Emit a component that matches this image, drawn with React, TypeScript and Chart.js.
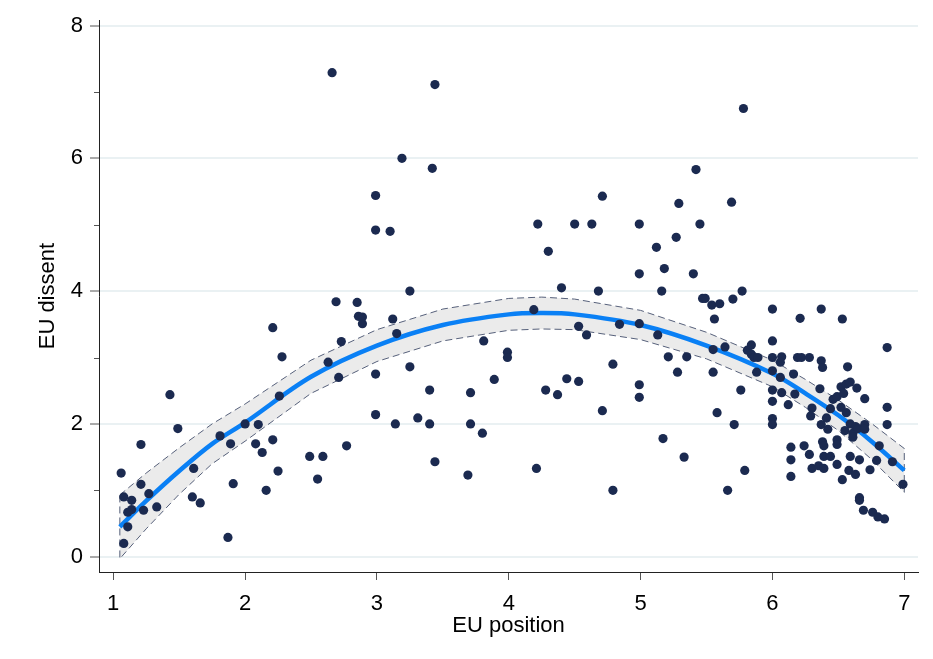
import React, { useEffect, useRef } from "react";
import { Chart, registerables } from "chart.js";

Chart.register(...registerables);

// Scatter observations (EU position, EU dissent)
const euPosition = [
  1.06, 1.08, 1.14, 1.14, 1.11, 1.23, 1.33, 1.27, 1.21, 1.21, 1.11, 1.08, 1.43, 1.49, 1.61, 1.6, 1.66, 1.81, 1.89, 1.91,
  1.87, 2.0, 2.1, 2.08, 2.13, 2.21, 2.25, 2.16, 2.26, 2.21, 2.28, 2.49, 2.59, 2.55, 2.77, 2.63, 2.71, 2.73, 2.69, 2.85,
  2.86, 2.89, 2.89, 2.66, 2.99, 2.99, 2.99, 2.99, 3.1, 3.19, 3.42, 3.44, 3.25, 3.12, 3.15, 3.25, 3.14, 3.31, 3.4, 3.4,
  3.44, 3.71, 3.71, 3.8, 3.69, 3.81, 3.89, 3.99, 3.99, 4.19, 4.21, 4.22, 4.3, 4.28, 4.37, 4.4, 4.44, 4.5, 4.53, 4.53,
  4.59, 4.63, 4.68, 4.71, 4.71, 4.79, 4.79, 4.84, 4.99, 4.99, 4.99, 4.99, 4.99, 5.12, 5.13, 5.16, 5.18, 5.17, 5.21, 5.27,
  5.29, 5.28, 5.33, 5.35, 5.4, 5.42, 5.45, 5.47, 5.49, 5.54, 5.6, 5.56, 5.55, 5.55, 5.58, 5.64, 5.66, 5.69, 5.7, 5.71,
  5.76, 5.77, 5.78, 5.79, 5.81, 5.84, 5.84, 5.86, 5.89, 5.88, 6.0, 6.0, 6.0, 6.0, 6.0, 6.0, 6.0, 6.0, 6.07, 6.06,
  6.06, 6.07, 6.12, 6.16, 6.17, 6.14, 6.14, 6.14, 6.19, 6.21, 6.22, 6.24, 6.28, 6.28, 6.3, 6.29, 6.3, 6.35, 6.36, 6.37,
  6.37, 6.38, 6.37, 6.38, 6.39, 6.39, 6.39, 6.41, 6.42, 6.44, 6.44, 6.46, 6.49, 6.49, 6.49, 6.49, 6.52, 6.54, 6.52, 6.53,
  6.53, 6.55, 6.56, 6.56, 6.57, 6.58, 6.59, 6.59, 6.59, 6.61, 6.61, 6.63, 6.63, 6.64, 6.65, 6.66, 6.66, 6.66, 6.69, 6.7,
  6.7, 6.7, 6.74, 6.76, 6.79, 6.8, 6.81, 6.85, 6.87, 6.87, 6.87, 6.91, 6.99,
];
const euDissent = [
  1.26, 0.9, 0.85, 0.71, 0.67, 0.7, 0.75, 0.95, 1.09, 1.69, 0.45, 0.2, 2.44, 1.93, 1.33, 0.9, 0.81, 1.82, 1.7, 1.1,
  0.29, 2.0, 1.99, 1.7, 1.57, 1.76, 1.29, 1.0, 2.42, 3.45, 3.01, 1.51, 1.51, 1.17, 1.67, 2.93, 2.7, 3.24, 3.84, 3.83,
  3.62, 3.61, 3.51, 7.29, 5.44, 4.92, 2.75, 2.14, 4.9, 6.0, 5.85, 7.11, 4.0, 3.58, 3.36, 2.86, 2.0, 2.09, 2.0, 2.51,
  1.43, 2.47, 2.0, 1.86, 1.23, 3.25, 2.67, 3.08, 3.0, 3.72, 1.33, 5.01, 4.6, 2.51, 2.44, 4.05, 2.68, 5.01, 3.47, 2.64,
  3.34, 5.01, 4.0, 5.43, 2.2, 2.9, 1.0, 3.5, 5.01, 4.26, 3.51, 2.59, 2.4, 4.66, 3.34, 4.0, 4.34, 1.78, 3.01, 4.81,
  5.32, 2.78, 1.5, 3.01, 4.26, 5.83, 5.01, 3.89, 3.89, 3.79, 3.81, 3.58, 3.12, 2.78, 2.17, 3.16, 1.0, 5.34, 3.88, 1.99,
  2.51, 4.0, 6.75, 1.3, 3.11, 3.19, 3.05, 3.0, 3.0, 2.78, 3.73, 3.25, 3.0, 2.8, 2.51, 2.34, 2.08, 1.99, 3.01, 2.93,
  2.7, 2.47, 2.29, 2.75, 2.45, 1.65, 1.46, 1.21, 3.0, 3.59, 3.0, 1.67, 3.0, 1.54, 2.24, 2.12, 1.33, 1.37, 2.53, 3.73,
  2.95, 2.85, 1.99, 1.73, 1.33, 1.67, 1.51, 2.09, 1.92, 2.23, 1.51, 2.37, 2.41, 1.76, 1.69, 1.39, 2.56, 2.46, 2.25, 3.58,
  1.16, 1.9, 2.6, 2.17, 2.86, 1.3, 2.63, 2.0, 1.51, 1.86, 1.8, 1.96, 1.24, 2.54, 1.93, 0.89, 0.85, 1.46, 0.7, 2.38,
  1.99, 1.92, 1.31, 0.67, 1.45, 0.6, 1.67, 0.57, 3.15, 2.25, 1.99, 1.43, 1.09,
];

// Quadratic fit and its confidence band
const fitX = [1.05, 1.25, 1.5, 1.75, 2, 2.5, 3, 3.5, 4, 4.25, 4.5, 5, 5.5, 6, 6.25, 6.5, 6.75, 7];
const fitY = [0.45, 0.84, 1.29, 1.7, 2.02, 2.71, 3.18, 3.49, 3.65, 3.67, 3.65, 3.49, 3.18, 2.76, 2.46, 2.13, 1.74, 1.3];
const ciHigh = [0.93, 1.26, 1.64, 2.0, 2.3, 2.96, 3.42, 3.73, 3.89, 3.91, 3.88, 3.71, 3.38, 2.96, 2.67, 2.36, 2.01, 1.63];
const ciLow = [-0.03, 0.42, 0.94, 1.4, 1.74, 2.46, 2.94, 3.25, 3.41, 3.43, 3.42, 3.27, 2.98, 2.56, 2.25, 1.9, 1.47, 0.97];

const xTicks = [1, 2, 3, 4, 5, 6, 7];
const yTicks = [0, 2, 4, 6, 8];
const yMinorTicks = [1, 3, 5, 7];

const FONT = "'Liberation Sans', Arial, sans-serif";

export default function App() {
  const ref = useRef<HTMLCanvasElement | null>(null);

  useEffect(() => {
    document.body.style.margin = "0";
    const canvas = ref.current;
    if (!canvas) return;

    const scatterData = euPosition.map((x, i) => ({ x, y: euDissent[i] }));
    const fitData = fitX.map((x, i) => ({ x, y: fitY[i] }));
    const bandData = [
      ...fitX.map((x, i) => ({ x, y: ciHigh[i] })),
      ...fitX
        .map((x, i) => ({ x, y: ciLow[i] }))
        .reverse(),
      { x: fitX[0], y: ciHigh[0] },
    ];

    const minorTicks = {
      id: "minorTicks",
      afterDraw(chart: any) {
        const ctx = chart.ctx;
        const ys = chart.scales.y;
        const left = chart.chartArea.left;
        ctx.save();
        ctx.strokeStyle = "#555";
        ctx.lineWidth = 1;
        yMinorTicks.forEach((v) => {
          const p = Math.round(ys.getPixelForValue(v)) + 0.5;
          ctx.beginPath();
          ctx.moveTo(left - 5, p);
          ctx.lineTo(left, p);
          ctx.stroke();
        });
        ctx.restore();
      },
    };

    const chart = new Chart(canvas, {
      type: "scatter",
      data: {
        datasets: [
          {
            data: scatterData,
            backgroundColor: "#1b2a50",
            borderWidth: 0,
            pointRadius: 4.6,
            order: 0,
          },
          {
            data: fitData,
            showLine: true,
            borderColor: "#0a80f5",
            borderWidth: 4.5,
            pointRadius: 0,
            tension: 0.35,
            fill: false,
            order: 1,
          },
          {
            data: bandData,
            showLine: true,
            borderColor: "#56607a",
            borderWidth: 1,
            borderDash: [7, 4],
            backgroundColor: "#ebebeb",
            pointRadius: 0,
            tension: 0,
            fill: "shape",
            order: 2,
          } as any,
        ],
      },
      options: {
        animation: false,
        responsive: false,
        devicePixelRatio: 1,
        events: [],
        layout: { padding: { top: 4, right: 15, left: 0, bottom: 0 } },
        plugins: {
          legend: { display: false },
          tooltip: { enabled: false },
          title: { display: false },
        },
        scales: {
          x: {
            type: "linear",
            min: 0.892,
            max: 7.104,
            afterBuildTicks: (s: any) => {
              s.ticks = xTicks.map((v) => ({ value: v }));
            },
            afterFit: (s: any) => {
              s.height = 87;
            },
            ticks: {
              color: "#000",
              font: { family: FONT, size: 22 },
              padding: 11,
              maxRotation: 0,
              autoSkip: false,
              callback: (v: any) => String(v),
            },
            grid: {
              drawOnChartArea: false,
              drawTicks: true,
              tickLength: 8,
              tickColor: "#555",
              tickWidth: 1,
            },
            border: { display: true, color: "#222", width: 1 },
            title: {
              display: true,
              text: "EU position",
              color: "#000",
              font: { family: FONT, size: 22 },
              padding: { top: 0, bottom: 20 },
            },
          },
          y: {
            type: "linear",
            min: -0.23,
            max: 8.08,
            afterBuildTicks: (s: any) => {
              s.ticks = yTicks.map((v) => ({ value: v }));
            },
            afterFit: (s: any) => {
              s.width = 99;
            },
            ticks: {
              color: "#000",
              font: { family: FONT, size: 22 },
              padding: 7,
              autoSkip: false,
              callback: (v: any) => String(v),
            },
            grid: {
              drawOnChartArea: true,
              color: "#eaf1f3",
              lineWidth: 2,
              drawTicks: true,
              tickLength: 9,
              tickColor: "#555",
              tickWidth: 1,
            },
            border: { display: true, color: "#222", width: 1 },
            title: {
              display: true,
              text: "EU dissent",
              color: "#000",
              font: { family: FONT, size: 22 },
              padding: { top: 35, bottom: 0 },
            },
          },
        },
      },
      plugins: [minorTicks],
    });

    return () => chart.destroy();
  }, []);

  return (
    <div style={{ position: "absolute", left: 0, top: 0, width: 933, height: 659, background: "#fff" }}>
      <canvas ref={ref} width={933} height={659} style={{ display: "block" }} />
    </div>
  );
}
